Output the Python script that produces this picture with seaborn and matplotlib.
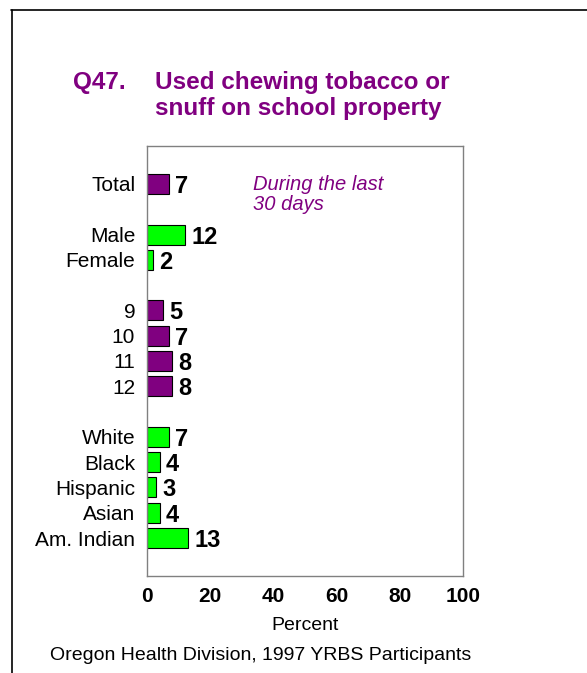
import numpy as np
import pandas as pd
import seaborn as sns
import matplotlib
matplotlib.use("Agg")
import matplotlib.pyplot as plt
from matplotlib.lines import Line2D

# ---- data ----
labels = ['Total', 'Male', 'Female', '9', '10', '11', '12',
          'White', 'Black', 'Hispanic', 'Asian', 'Am. Indian']
values = [7, 12, 2, 5, 7, 8, 8, 7, 4, 3, 4, 13]
groups = ['Total', 'Sex', 'Sex', 'Grade', 'Grade', 'Grade', 'Grade',
          'Race', 'Race', 'Race', 'Race', 'Race']
group_colors = {'Total': '#800080', 'Sex': '#00ff00',
                'Grade': '#800080', 'Race': '#00ff00'}
xticks = [0, 20, 40, 60, 80, 100]

# slot positions with a blank slot between groups
pos = []
p = 0
prev = None
for g in groups:
    if prev is not None and g != prev:
        p += 1
    pos.append(p)
    p += 1
    prev = g

df = pd.DataFrame({'label': labels, 'value': values, 'pos': pos, 'group': groups})

sns.set_theme(style='white', rc={'text.color': 'black', 'xtick.color': 'black',
                                 'ytick.color': 'black', 'axes.labelcolor': 'black'})
plt.rcParams['font.family'] = ['Liberation Sans', 'DejaVu Sans']

fig = plt.figure(figsize=(5.87, 6.73), dpi=100)
ax = fig.add_axes([147/587, 1-576/673, (463-147)/587, (576-146)/673])

sns.barplot(data=df, x='value', y='pos', hue='group', palette=group_colors,
            orient='h', native_scale=True, dodge=False, width=0.79,
            saturation=1, edgecolor='black', linewidth=0.8, legend=False, ax=ax)

ax.set_xlim(0, 100)
ax.set_ylim(max(pos) + 1.5, -1.5)
ax.set_yticks(pos, labels)
ax.set_xticks(xticks, [str(t) for t in xticks])
ax.tick_params(axis='y', length=0, pad=8.5, labelsize=15, labelcolor='black')
ax.tick_params(axis='x', length=0, pad=8, labelsize=15, labelcolor='black')
for t in ax.get_xticklabels():
    t.set_fontweight('bold')
ax.set_ylabel('')
ax.set_xlabel('Percent', fontsize=14, labelpad=8, color='black')
for s in ax.spines.values():
    s.set_color('#808080')
    s.set_linewidth(1.0)
    s.set_visible(True)

for c in ax.containers:
    texts = ax.bar_label(c, fmt='%d', padding=4.5, fontsize=17, fontweight='bold',
                         color='black')
    for t in texts:
        t.set_va('center_baseline')

ax.text(33.5, 0.43, 'During the last\n30 days', style='italic', fontsize=14.5,
        color='#800080', ha='left', va='center', linespacing=1.05)

# title
fig.text(73/587, 1-89/673, 'Q47.', fontsize=17.5, fontweight='bold',
         color='#800080', ha='left', va='baseline')
fig.text(155/587, 1-89/673, 'Used chewing tobacco or', fontsize=17.5,
         fontweight='bold', color='#800080', ha='left', va='baseline')
fig.text(155/587, 1-115/673, 'snuff on school property', fontsize=17.5,
         fontweight='bold', color='#800080', ha='left', va='baseline')

fig.text(50/587, 1-655/673, 'Oregon Health Division, 1997 YRBS Participants',
         fontsize=14, ha='left', va='center', color='black')

# frame lines
fig.add_artist(Line2D([11/587, 1], [1-10/673, 1-10/673],
                      transform=fig.transFigure, color='black', lw=1.2))
fig.add_artist(Line2D([12/587, 12/587], [0, 1-10/673],
                      transform=fig.transFigure, color='black', lw=1.2))

fig.savefig('out.png', dpi=100)
